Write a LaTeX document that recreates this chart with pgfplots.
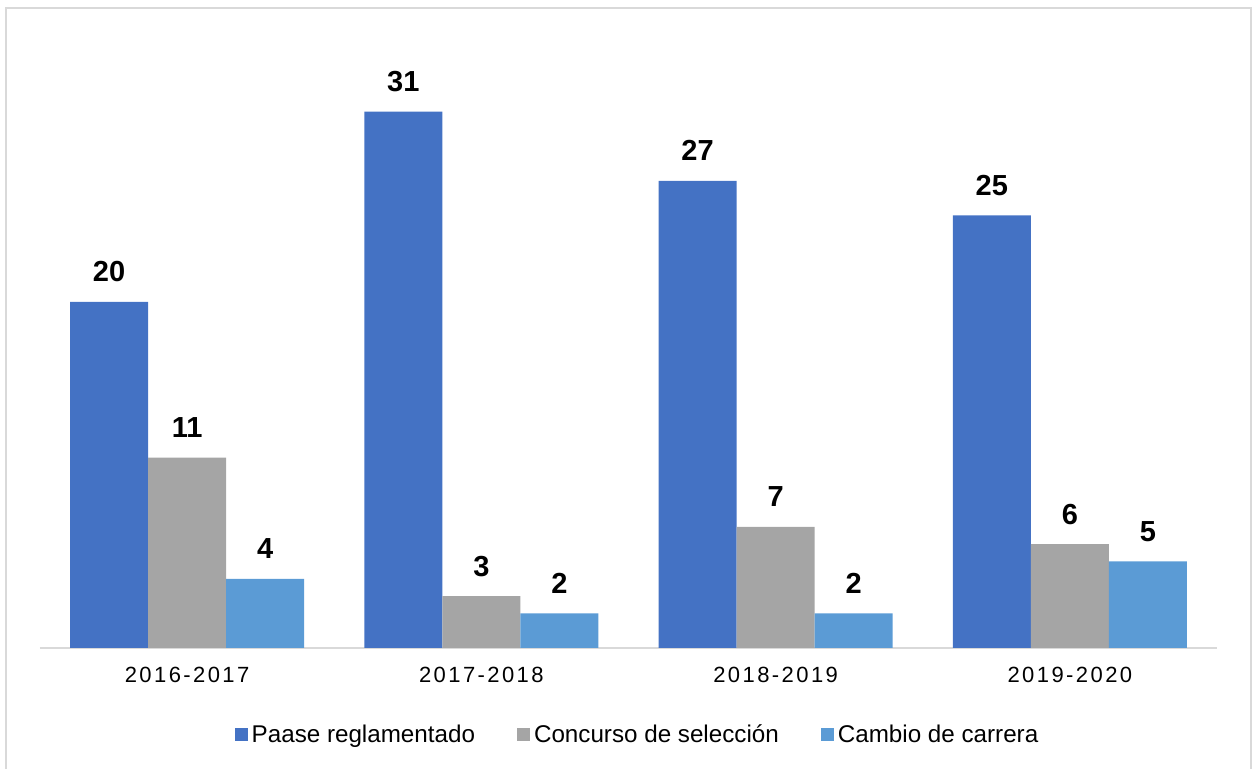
\documentclass[border=0pt]{standalone}
\usepackage{fontspec}
\setmainfont{Liberation Sans}
\newfontfamily\spaced[LetterSpace=11]{Liberation Sans}
\usepackage{pgfplots}
\pgfplotsset{compat=1.18}
\definecolor{paase}{HTML}{4472C4}
\definecolor{concurso}{HTML}{A5A5A5}
\definecolor{cambio}{HTML}{5B9BD5}
\definecolor{lineGray}{HTML}{D9D9D9}
\begin{document}
\begin{tikzpicture}
\path[use as bounding box] (-20pt,-60.5pt) rectangle (606.5pt,324pt);
\draw[lineGray, line width=1pt] (-17pt,-64pt) -- (-17pt,320pt) -- (605.5pt,320pt) -- (605.5pt,-64pt);
\begin{axis}[
    at={(0pt,0pt)}, anchor=south west,
    width=588.5pt, height=294.1pt, scale only axis,
    ybar=0pt, bar width=39pt,
    xmin=-0.5, xmax=3.5, ymin=0, ymax=34,
    axis x line*=bottom, axis y line=none,
    axis line style={-},
    x axis line style={draw=lineGray, line width=1pt},
    xtick=data,
    xticklabels={2016-2017,2017-2018,2018-2019,2019-2020},
    ytick=\empty,
    major tick length=0pt,
    xticklabel style={font=\spaced\fontsize{11}{13}\selectfont, anchor=base, yshift=-17.5pt},
    nodes near coords={\pgfmathprintnumber[assume math mode=true]{\pgfplotspointmeta}},
    every node near coord/.append style={font=\bfseries\fontsize{14.5}{17}\selectfont, anchor=base, yshift=10pt, text=black},
    legend columns=3,
    legend style={at={(0.5085,-0.1224)}, anchor=north, draw=none, fill=none, inner sep=0pt,
        font=\fontsize{12.1}{14}\selectfont,
        /tikz/every even column/.append style={column sep=19pt}},
    legend image code/.code={\fill[#1] (0pt,-3.3pt) rectangle (6.5pt,3.3pt);},
    clip=false,
]
\addplot[fill=paase, draw=none] coordinates {(0,20) (1,31) (2,27) (3,25)};
\addlegendentry{Paase reglamentado}
\addplot[fill=concurso, draw=none] coordinates {(0,11) (1,3) (2,7) (3,6)};
\addlegendentry{Concurso de selección}
\addplot[fill=cambio, draw=none] coordinates {(0,4) (1,2) (2,2) (3,5)};
\addlegendentry{Cambio de carrera}
\end{axis}
\end{tikzpicture}
\end{document}
